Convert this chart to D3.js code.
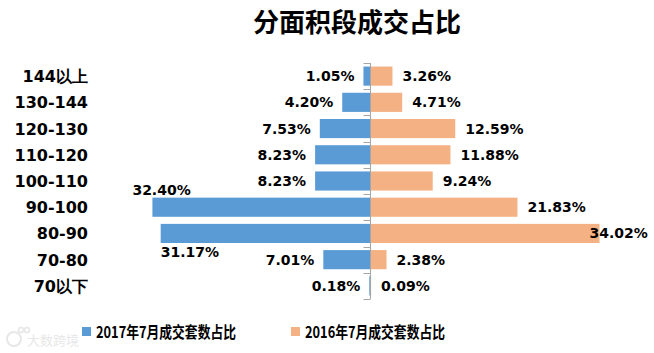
<!DOCTYPE html>
<html>
<head>
<meta charset="utf-8">
<script src="https://cdn.jsdelivr.net/npm/d3@7"></script>
<style>
  body { margin: 0; background: #fff; }
  svg { display: block; }
</style>
</head>
<body>
<svg id="chart" width="654" height="353"></svg>
<script>
// data
const categories = ['144以上', '130-144', '120-130', '110-120', '100-110', '90-100', '80-90', '70-80', '70以下']
const values2017 = [1.05, 4.20, 7.53, 8.23, 8.23, 32.40, 31.17, 7.01, 0.18]
const values2016 = [3.26, 4.71, 12.59, 11.88, 9.24, 21.83, 34.02, 2.38, 0.09]
const seriesNames = ['2017年7月成交套数占比', '2016年7月成交套数占比']

const svg = d3.select('#chart')
const blue = '#5B9BD5'
const orange = '#F4B183'
const axisX = 370.5

// x scale: percent -> pixels from the centre axis
const scaleX = d3.scaleLinear().domain([0, 34.02]).range([0, 229])

const scaleY = d3.scaleBand()
  .domain(categories)
  .range([63, 299])
  .paddingInner(0.27)
  .paddingOuter(0.135)

// title
svg.append('text')
  .attr('x', 357).attr('y', 32)
  .attr('text-anchor', 'middle')
  .style('font-family', '"Noto Sans CJK SC", sans-serif')
  .style('font-weight', 'bold')
  .style('font-size', '26px')
  .text('分面积段成交占比')

// category labels
svg.append('g').selectAll('text')
  .data(categories)
  .join('text')
  .attr('x', 88)
  .attr('y', d => scaleY(d) + scaleY.bandwidth() / 2 + 6)
  .attr('text-anchor', 'end')
  .style('font-family', '"DejaVu Sans", sans-serif')
  .style('font-weight', 'bold')
  .style('font-size', '16px')
  .text(d => d)

// bars
const rows = categories.map((c, i) => ({ c, a: values2017[i], b: values2016[i] }))

svg.append('g').selectAll('rect')
  .data(rows)
  .join('rect')
  .attr('x', d => axisX - scaleX(d.a))
  .attr('y', d => scaleY(d.c))
  .attr('width', d => scaleX(d.a))
  .attr('height', scaleY.bandwidth())
  .attr('fill', blue)

svg.append('g').selectAll('rect')
  .data(rows)
  .join('rect')
  .attr('x', axisX)
  .attr('y', d => scaleY(d.c))
  .attr('width', d => scaleX(d.b))
  .attr('height', scaleY.bandwidth())
  .attr('fill', orange)

// axis with ticks at band boundaries
const axis = svg.append('g').attr('stroke', '#a6a6a6').attr('stroke-width', 1)
axis.append('line')
  .attr('x1', axisX).attr('x2', axisX)
  .attr('y1', 63).attr('y2', 299)
const step = scaleY.step()
axis.selectAll('.tick')
  .data(d3.range(categories.length + 1))
  .join('line')
  .attr('x1', axisX - 7).attr('x2', axisX)
  .attr('y1', i => Math.round(63 + i * step) + 0.5)
  .attr('y2', i => Math.round(63 + i * step) + 0.5)

// data labels
const labelStyle = sel => sel
  .style('font-family', '"DejaVu Sans", sans-serif')
  .style('font-weight', 'bold')
  .style('font-size', '14px')
  .attr('fill', '#000')

const fmt = v => v.toFixed(2) + '%'

svg.append('g').selectAll('text')
  .data(rows)
  .join('text')
  .attr('x', (d, i) => {
    if (i === 5 || i === 6) return axisX - scaleX(d.a)
    return axisX - scaleX(d.a) - 9
  })
  .attr('y', (d, i) => {
    const mid = scaleY(d.c) + scaleY.bandwidth() / 2 + 5
    if (i === 5) return scaleY(d.c) - 3
    if (i === 6) return scaleY(d.c) + scaleY.bandwidth() + 14
    return mid
  })
  .attr('text-anchor', (d, i) => (i === 5 || i === 6) ? 'start' : 'end')
  .attr('dx', (d, i) => i === 5 ? -20 : 0)
  .call(labelStyle)
  .text(d => fmt(d.a))

svg.append('g').selectAll('text')
  .data(rows)
  .join('text')
  .attr('x', (d, i) => i === 6 ? axisX + scaleX(d.b) - 10 : axisX + scaleX(d.b) + 10)
  .attr('y', d => scaleY(d.c) + scaleY.bandwidth() / 2 + 5)
  .call(labelStyle)
  .text(d => fmt(d.b))

// legend
const legend = svg.append('g')
const legendItems = [
  { name: seriesNames[0], color: blue, x: 82 },
  { name: seriesNames[1], color: orange, x: 291 }
]
legendItems.forEach(item => {
  legend.append('rect')
    .attr('x', item.x).attr('y', 327)
    .attr('width', 9).attr('height', 9)
    .attr('fill', item.color)
  legend.append('text')
    .attr('x', item.x + 14).attr('y', 338)
    .attr('textLength', 140)
    .attr('lengthAdjust', 'spacingAndGlyphs')
    .style('font-family', '"Noto Sans CJK SC", sans-serif')
    .style('font-weight', 'bold')
    .style('font-size', '16px')
    .text(item.name)
})

// watermark
const wm = svg.append('g').attr('opacity', 0.35)
wm.append('circle').attr('cx', 14).attr('cy', 339).attr('r', 7)
  .attr('fill', 'none').attr('stroke', '#bbb').attr('stroke-width', 2)
wm.append('circle').attr('cx', 21).attr('cy', 330).attr('r', 2.5)
  .attr('fill', 'none').attr('stroke', '#bbb').attr('stroke-width', 1.5)
wm.append('circle').attr('cx', 27).attr('cy', 330).attr('r', 2.5)
  .attr('fill', 'none').attr('stroke', '#bbb').attr('stroke-width', 1.5)
wm.append('text')
  .attr('x', 27).attr('y', 345)
  .attr('fill', '#bbb')
  .style('font-family', '"Noto Sans CJK SC", sans-serif')
  .style('font-size', '13px')
  .text('大数跨境')
</script>
</body>
</html>
